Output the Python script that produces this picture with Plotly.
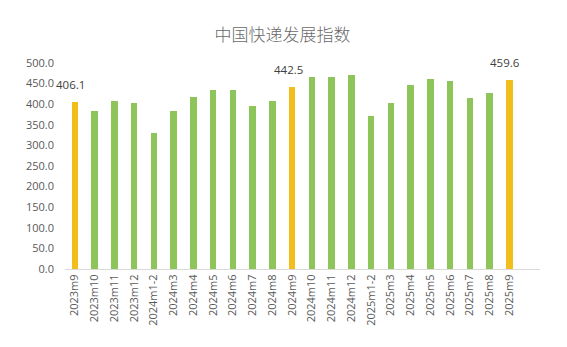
import plotly.graph_objects as go

# Monthly express delivery development index
months = [
    "2023m9", "2023m10", "2023m11", "2023m12", "2024m1-2", "2024m3", "2024m4",
    "2024m5", "2024m6", "2024m7", "2024m8", "2024m9", "2024m10", "2024m11",
    "2024m12", "2025m1-2", "2025m3", "2025m4", "2025m5", "2025m6", "2025m7",
    "2025m8", "2025m9",
]
index_values = [
    406.1, 384.5, 408.0, 402.5, 331.0, 384.5, 418.0,
    435.5, 435.5, 395.5, 408.0, 442.5, 466.0, 465.0,
    471.0, 371.0, 404.0, 446.0, 461.0, 456.0, 416.0,
    427.0, 459.6,
]
# September months are highlighted and labelled
highlight = ["2023m9", "2024m9", "2025m9"]

GREEN = "#8DC55A"
GOLD = "#F2BE1C"

colors = [GOLD if m in highlight else GREEN for m in months]
xs = list(range(len(months)))

fig = go.Figure()
fig.add_trace(go.Bar(
    x=xs,
    y=index_values,
    marker=dict(color=colors, line=dict(width=0)),
    width=0.34,
    hoverinfo="x+y",
))

for i, (m, v) in enumerate(zip(months, index_values)):
    if m in highlight:
        fig.add_annotation(
            x=i, y=v, text=f"{v:.1f}", showarrow=False,
            xref="x", yref="y", yanchor="bottom", yshift=8, xshift=-4,
            font=dict(family="Open Sans, Noto Sans, sans-serif", size=11.5, color="#404040"),
        )

fig.update_layout(
    width=567,
    height=347,
    margin=dict(l=65, r=27, t=63, b=78),
    paper_bgcolor="white",
    plot_bgcolor="white",
    showlegend=False,
    bargap=0,
    title=dict(
        text="中国快递发展指数",
        x=282.5 / 567, xanchor="center", xref="container",
        y=1 - 35 / 347, yanchor="middle", yref="container",
        font=dict(family="Noto Sans CJK SC, sans-serif", size=17, color="#6a6a6a", weight=300),
    ),
    xaxis=dict(
        tickmode="array",
        tickvals=xs,
        ticktext=months,
        tickangle=-90,
        range=[-0.5, 23.55],
        showgrid=False,
        showline=True,
        linecolor="#D9D9D9",
        linewidth=1,
        ticks="",
        zeroline=False,
        tickfont=dict(family="Open Sans, Noto Sans, sans-serif", size=11, color="#595959"),
    ),
    yaxis=dict(
        range=[0, 500],
        tickmode="array",
        tickvals=list(range(0, 501, 50)),
        ticktext=[f"{v:.1f}" for v in range(0, 501, 50)],
        showgrid=False,
        showline=False,
        zeroline=False,
        ticks="",
        ticklabelstandoff=10,
        tickfont=dict(family="Open Sans, Noto Sans, sans-serif", size=11, color="#595959"),
    ),
)

fig.write_html("out.html")
